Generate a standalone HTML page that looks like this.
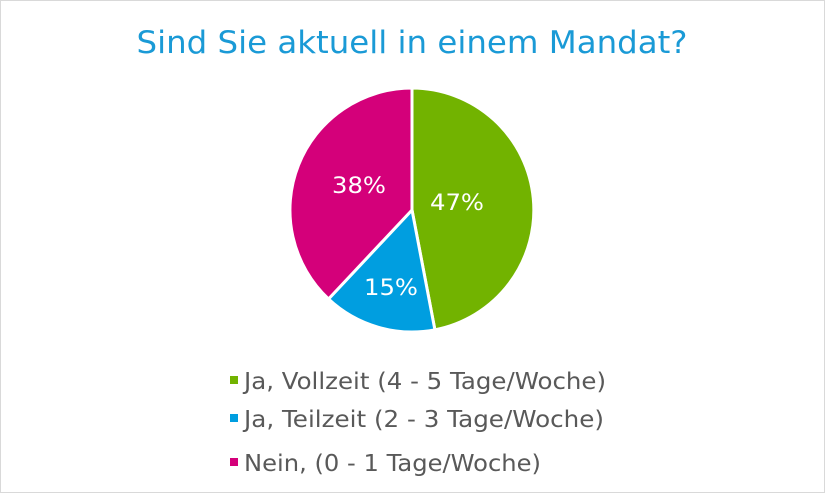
<!DOCTYPE html>
<html><head><meta charset="utf-8"><style>
html,body{margin:0;padding:0;background:#fff}
svg{display:block}
</style></head><body>
<svg width="825" height="493" viewBox="0 0 825 493" xmlns="http://www.w3.org/2000/svg">
<rect x="0.5" y="0.5" width="824" height="492" fill="#fff" stroke="#d9d9d9"/>
<text x="412" y="53" text-anchor="middle" font-family="DejaVu Sans, Verdana, sans-serif" font-size="31" fill="#1a9ad6" textLength="551" lengthAdjust="spacingAndGlyphs">Sind Sie aktuell in einem Mandat?</text>
<g stroke="#fff" stroke-width="3" stroke-linejoin="round">
<path d="M412,210 L412,88 A122,122 0 0 1 434.9,329.8 Z" fill="#72b300"/>
<path d="M412,210 L434.9,329.8 A122,122 0 0 1 328.5,299 Z" fill="#009ee0"/>
<path d="M412,210 L328.5,299 A122,122 0 0 1 412,88 Z" fill="#d4007a"/>
</g>
<g font-family="DejaVu Sans, Verdana, sans-serif" font-size="22" fill="#fff" text-anchor="middle">
<text x="359" y="193" textLength="54" lengthAdjust="spacingAndGlyphs">38%</text>
<text x="457" y="210" textLength="54" lengthAdjust="spacingAndGlyphs">47%</text>
<text x="391" y="295" textLength="54" lengthAdjust="spacingAndGlyphs">15%</text>
</g>
<g font-family="DejaVu Sans, Verdana, sans-serif" font-size="23" fill="#595959">
<rect x="230" y="376" width="8" height="8" fill="#72b300"/>
<text x="244" y="389" textLength="362" lengthAdjust="spacingAndGlyphs">Ja, Vollzeit (4 - 5 Tage/Woche)</text>
<rect x="230" y="414" width="8" height="8" fill="#009ee0"/>
<text x="244" y="427" textLength="360" lengthAdjust="spacingAndGlyphs">Ja, Teilzeit (2 - 3 Tage/Woche)</text>
<rect x="230" y="458" width="8" height="8" fill="#d4007a"/>
<text x="244" y="471" textLength="297" lengthAdjust="spacingAndGlyphs">Nein, (0 - 1 Tage/Woche)</text>
</g>
</svg>
</body></html>
